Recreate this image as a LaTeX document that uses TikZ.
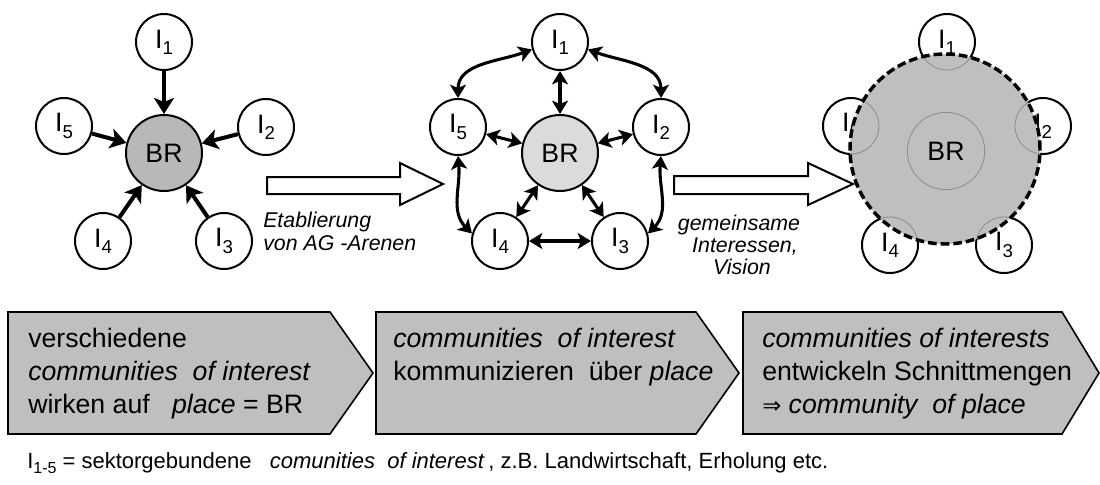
\documentclass[tikz,border=0pt]{standalone}
\usepackage{fontspec}
\setmainfont{Liberation Sans}
\usetikzlibrary{arrows.meta}

\definecolor{brdark}{gray}{0.72}
\definecolor{brlight}{gray}{0.86}
\definecolor{chev}{gray}{0.75}
\definecolor{ghost}{gray}{0.55}

% I with a lowered index
\newcommand\Isub[1]{I\raisebox{-0.45ex}{\fontsize{14pt}{14pt}\selectfont #1}}

\begin{document}
\begin{tikzpicture}[x=0.75pt,y=-0.75pt,
  every node/.style={font=\fontsize{20pt}{24pt}\selectfont},
  inode/.style={circle,draw,line width=1.5pt,minimum size=42pt,inner sep=0pt,fill=white},
  brnode/.style={circle,draw,line width=1.5pt,minimum size=57pt,inner sep=0pt},
  inarrow/.style={line width=3pt,-{Stealth[length=12pt,width=15pt,inset=3pt]}},
  twoway/.style={line width=2.3pt,
    {Stealth[length=10pt,width=12pt,inset=2.5pt]}-{Stealth[length=10pt,width=12pt,inset=2.5pt]}},
  hollow/.style={draw,line width=1.5pt,fill=white},
  chevron/.style={draw,line width=1.2pt,fill=chev},
  chevtext/.style={anchor=base west,inner sep=0pt,font=\fontsize{20pt}{24pt}\selectfont},
  steplabel/.style={inner sep=0pt,font=\fontsize{16pt}{17pt}\selectfont\itshape},
  note/.style={anchor=base west,inner sep=0pt,font=\fontsize{16.5pt}{18pt}\selectfont}]

\useasboundingbox (0,0) rectangle (1100,485);

% ---- stage 1: interests acting on the reserve ----
\node[brnode,fill=brdark] (A0) at (164,153) {BR};
\node[inode] (A1) at (164,42)  {\Isub1};
\node[inode] (A2) at (266,127) {\Isub2};
\node[inode] (A3) at (224,241) {\Isub3};
\node[inode] (A4) at (103,241) {\Isub4};
\node[inode] (A5) at (64,126)  {\Isub5};
\foreach \i in {1,...,5} \draw[inarrow] (A\i) -- (A0);

% block arrow 1
\draw[hollow] (267,177) -- (400,177) -- (400,163) -- (443,184)
  -- (400,205) -- (400,194) -- (267,194) -- cycle;
\node[steplabel,anchor=base west] (L1a) at (263,227) {Etablierung};
\node[steplabel,anchor=base west] (L1b) at (263,250) {von AG -Arenen};

% ---- stage 2: interests communicating ----
\node[brnode,fill=brlight] (B0) at (560,153) {BR};
\node[inode] (B1) at (560,42)  {\Isub1};
\node[inode] (B2) at (661,127) {\Isub2};
\node[inode] (B3) at (620,241) {\Isub3};
\node[inode] (B4) at (500,241) {\Isub4};
\node[inode] (B5) at (458,127) {\Isub5};
\foreach \i in {1,...,5} \draw[twoway] (B\i) -- (B0);
\draw[twoway] (B4) -- (B3);
\draw[twoway] (B1.195) to[out=200,in=90] (B5.north);
\draw[twoway] (B1.-15) to[out=-20,in=90] (B2.north);
\draw[twoway] (B5.south) to[out=-85,in=135] (B4.165);
\draw[twoway] (B2.south) to[out=-95,in=45] (B3.15);

% block arrow 2
\draw[hollow] (674,176) -- (808,176) -- (808,163) -- (853,184)
  -- (808,205) -- (808,194) -- (674,194) -- cycle;
\node[steplabel,anchor=base] (L2a) at (739,230) {gemeinsame};
\node[steplabel,anchor=base] (L2b) at (745,252) {Interessen,};
\node[steplabel,anchor=base] (L2c) at (742,274) {Vision};

% ---- stage 3: community of place ----
\node[inode] (C1) at (947,42)   {\Isub1};
\node[inode] (C2) at (1043,126) {\Isub2};
\node[inode] (C3) at (1004,245) {\Isub3};
\node[inode] (C4) at (890,245)  {\Isub4};
\node[inode] (C5) at (851,126)  {\Isub5};
\coordinate (Cm) at (945,149);
\fill[chev] (Cm) circle[radius=71.25pt];
\begin{scope}
  \clip (Cm) circle[radius=71.25pt];
  \foreach \i in {1,...,5} \draw[ghost,line width=0.6pt] (C\i.center) circle[radius=21pt];
  \draw[ghost,line width=0.6pt] (946,151) circle[radius=29pt];
\end{scope}
\draw[line width=2.6pt,dash pattern=on 6.5pt off 3pt] (Cm) circle[radius=71.25pt];
\node (C0) at (946,151) {BR};

% ---- process chevrons ----
\draw[chevron] (8,312) -- (330,312) -- (373,373) -- (330,434) -- (8,434) -- cycle;
\draw[chevron] (376,312) -- (696,312) -- (739,373) -- (696,434) -- (376,434) -- cycle;
\draw[chevron] (743,312) -- (1062,312) -- (1099,373) -- (1062,434) -- (743,434) -- cycle;

\node[chevtext] (P1a) at (28,347) {verschiedene};
\node[chevtext] (P1b) at (28,380) {\textit{communities\ \ of interest}};
\node[chevtext] (P1c) at (28,413) {wirken auf\ \ \ \textit{place} = BR};
\node[chevtext] (P2a) at (393,347) {\textit{communities\ \ of interest}};
\node[chevtext] (P2b) at (393,380) {kommunizieren\ \ über \textit{place}};
\node[chevtext] (P3a) at (762,347) {\textit{communities of interests}};
\node[chevtext] (P3b) at (762,380) {entwickeln Schnittmengen};
\node[chevtext] (P3c) at (762,413)
  {{\fontspec{DejaVu Sans}\fontsize{17pt}{17pt}\selectfont ⇒} \textit{community\ \ of place}};

% ---- footnote ----
\node[note] (N) at (27,468)
  {I\raisebox{-0.5ex}{\fontsize{12pt}{12pt}\selectfont 1-5} = sektorgebundene\ \ \
   \textit{comunities\ \ of interest}\,, z.B. Landwirtschaft, Erholung etc.};
\end{tikzpicture}
\end{document}
